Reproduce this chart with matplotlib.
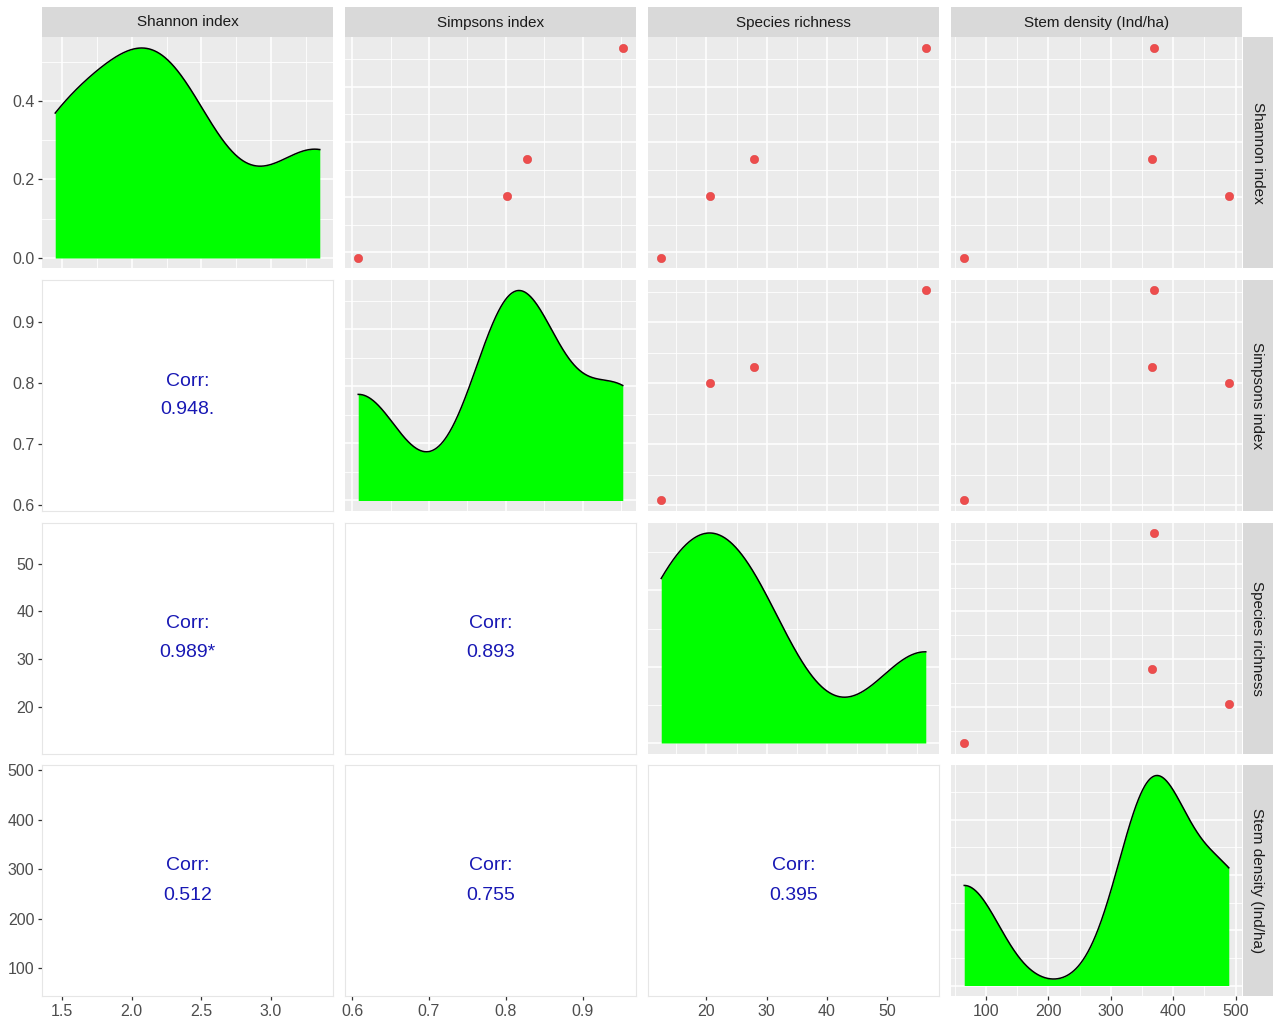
import numpy as np
import matplotlib.pyplot as plt
from matplotlib.ticker import MaxNLocator

plt.rcParams['font.family'] = ['Liberation Sans', 'DejaVu Sans']

# site-level diversity measures
shannon = [1.45, 2.01, 2.35, 3.35]
simpson = [0.608, 0.801, 0.827, 0.952]
richness = [12.5, 20.6, 27.9, 56.4]
stem = [65, 489, 366, 369]

var_names = ["Shannon index", "Simpsons index", "Species richness", "Stem density (Ind/ha)"]
corr_text = {(1, 0): "0.948.", (2, 0): "0.989*", (2, 1): "0.893",
             (3, 0): "0.512", (3, 1): "0.755", (3, 2): "0.395"}
breaks = [[1.5, 2.0, 2.5, 3.0], [0.6, 0.7, 0.8, 0.9], [20, 30, 40, 50], [100, 200, 300, 400, 500]]
break_labels = [["1.5", "2.0", "2.5", "3.0"], ["0.6", "0.7", "0.8", "0.9"],
                ["20", "30", "40", "50"], ["100", "200", "300", "400", "500"]]

data = [np.array(shannon), np.array(simpson), np.array(richness), np.array(stem, dtype=float)]

W, H = 1274, 1021
col_x = [42, 345, 648, 951]
row_y = [37.5, 280, 522.5, 765]
pw, ph = 291, 231

BG = "#EBEBEB"
GRID = "white"
TICK_COL = "#333333"
LAB_COL = "#4D4D4D"


def px_axes(fig, x, y, w, h):
    return fig.add_axes([x / W, 1 - (y + h) / H, w / W, h / H])


def expand(lo, hi, f=0.05):
    r = hi - lo
    return lo - r * f, hi + r * f


def nrd0(x):
    sd = x.std(ddof=1)
    q75, q25 = np.percentile(x, [75, 25])
    lo = min(sd, (q75 - q25) / 1.34)
    return 0.9 * lo * len(x) ** -0.2


def kde(x, n=512):
    bw = nrd0(x)
    g = np.linspace(x.min(), x.max(), n)
    z = (g[:, None] - x[None, :]) / bw
    d = np.exp(-0.5 * z ** 2).sum(axis=1) / (len(x) * bw * np.sqrt(2 * np.pi))
    return g, d


def minor_of(major, lim):
    step = major[1] - major[0]
    half = step / 2
    start = major[0] - half * np.ceil((major[0] - lim[0]) / half)
    vals = np.arange(start, lim[1] + 1e-9, half)
    return [v for v in vals if lim[0] <= v <= lim[1] and
            min(abs(v - m) for m in major) > half * 0.1]


def draw_grid(ax, xmaj, xlim, ymaj, ylim):
    for v in minor_of(xmaj, xlim):
        ax.axvline(v, color=GRID, lw=0.6, zorder=0.5)
    for v in minor_of(ymaj, ylim):
        ax.axhline(v, color=GRID, lw=0.6, zorder=0.5)
    for v in xmaj:
        if xlim[0] <= v <= xlim[1]:
            ax.axvline(v, color=GRID, lw=1.1, zorder=0.6)
    for v in ymaj:
        if ylim[0] <= v <= ylim[1]:
            ax.axhline(v, color=GRID, lw=1.1, zorder=0.6)


limits = [expand(d.min(), d.max()) for d in data]

fig = plt.figure(figsize=(W / 100, H / 100), dpi=100)

for i in range(4):
    for j in range(4):
        ax = px_axes(fig, col_x[j], row_y[i], pw, ph)
        xlim = limits[j]
        ax.set_xlim(xlim)
        if i == j:
            g, d = kde(data[i])
            ylim = expand(0, d.max())
            ax.set_ylim(ylim)
            ax.set_facecolor(BG)
            ymaj = [v for v in MaxNLocator(nbins=5, steps=[1, 2, 5, 10]).tick_values(0, d.max())
                    if v <= ylim[1]]
            draw_grid(ax, breaks[j], xlim, ymaj, ylim)
            ax.fill_between(g, 0, d, color="#00FF00", lw=0, zorder=2)
            ax.plot(g, d, color="black", lw=1.1, zorder=3)
            if j == 0:
                ax.set_yticks(ymaj[:3])
                ax.set_yticklabels([f"{v:.1f}" for v in ymaj[:3]])
            else:
                ax.set_yticks([])
        else:
            ylim = limits[i]
            ax.set_ylim(ylim)
            ax.set_yticks(breaks[i])
            ax.set_yticklabels(break_labels[i])
            if i < j:
                ax.set_facecolor(BG)
                draw_grid(ax, breaks[j], xlim, breaks[i], ylim)
                ax.scatter(data[j], data[i], s=36, color="#EE4444", edgecolors="#E03C3C",
                           linewidths=0.4, alpha=0.95, zorder=3)
            else:
                ax.set_facecolor("white")
                dy = 14.5 / ph
                ax.text(0.5, 0.5 + dy, "Corr:", transform=ax.transAxes, ha="center", va="center",
                        fontsize=14, color="#1818B4")
                ax.text(0.5, 0.5 - dy, corr_text[(i, j)], transform=ax.transAxes, ha="center",
                        va="center", fontsize=14, color="#1818B4")

        for s in ax.spines.values():
            if i > j:
                s.set_color("#E6E6E6")
                s.set_linewidth(0.8)
            else:
                s.set_visible(False)

        ax.set_xticks(breaks[j])
        ax.set_xticklabels(break_labels[j])
        ax.tick_params(axis="both", length=3.0, width=0.9, color=TICK_COL,
                       labelcolor=LAB_COL, labelsize=11.5, pad=2.5)
        if i != 3:
            ax.tick_params(axis="x", bottom=False, labelbottom=False)
        if j != 0:
            ax.tick_params(axis="y", left=False, labelleft=False)

# column strips
for j in range(4):
    sax = px_axes(fig, col_x[j], 7.5, pw, 30)
    sax.set_facecolor("#D9D9D9")
    sax.set_xticks([])
    sax.set_yticks([])
    for s in sax.spines.values():
        s.set_visible(False)
    sax.text(0.5, 0.5, var_names[j], ha="center", va="center", fontsize=11, color="#1A1A1A")

# row strips
for i in range(4):
    sax = px_axes(fig, 1242.5, row_y[i], 30, ph)
    sax.set_facecolor("#D9D9D9")
    sax.set_xticks([])
    sax.set_yticks([])
    for s in sax.spines.values():
        s.set_visible(False)
    sax.text(0.5, 0.5, var_names[i], ha="center", va="center", rotation=-90,
             fontsize=11, color="#1A1A1A")

fig.savefig("out.png", dpi=100, facecolor="white")
